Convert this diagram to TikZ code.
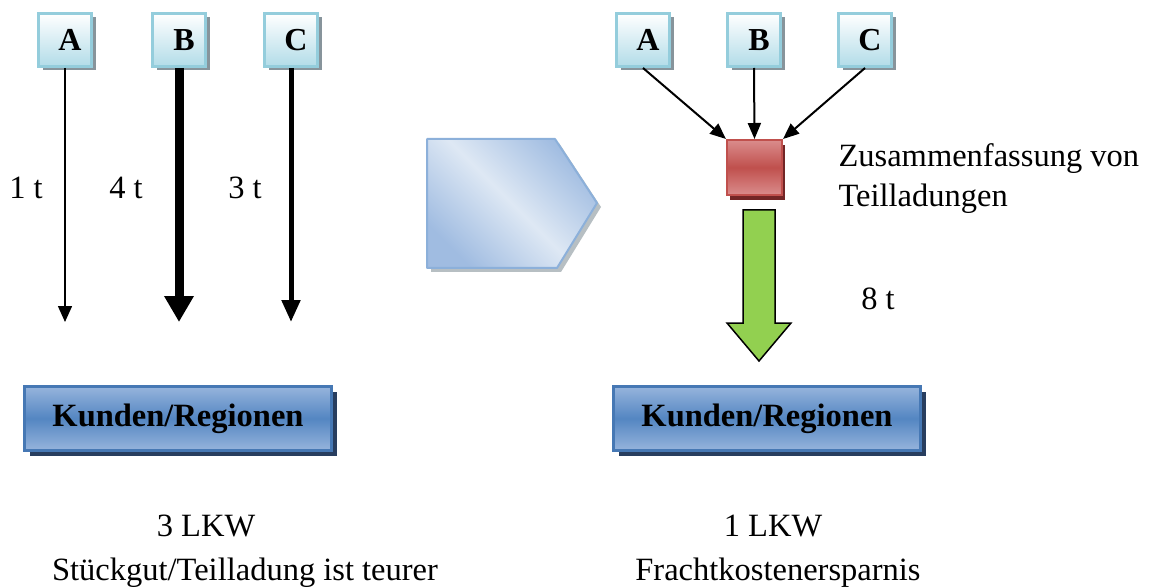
\documentclass[tikz,border=0pt]{standalone}
\usepackage{fontspec}
\setmainfont{Liberation Serif}
\usetikzlibrary{arrows.meta,calc,shadows}

\definecolor{srcframe}{RGB}{148,205,220}
\definecolor{srcfill}{RGB}{178,220,232}
\definecolor{srcshadow}{RGB}{135,148,155}
\definecolor{custmid}{RGB}{84,134,194}
\definecolor{custlight}{RGB}{150,180,220}
\definecolor{custframe}{RGB}{70,120,180}
\definecolor{custshadow}{RGB}{40,62,95}
\definecolor{hubred}{RGB}{192,80,77}
\definecolor{hublight}{RGB}{218,140,140}
\definecolor{hubshadow}{RGB}{115,38,38}
\definecolor{flowgreen}{RGB}{146,208,80}
\definecolor{stepdark}{RGB}{160,188,225}
\definecolor{steplight}{RGB}{222,232,244}
\definecolor{stepframe}{RGB}{140,176,218}

\tikzset{
  bigtext/.style={font=\fontsize{32.5}{40}\selectfont},
  srcbox/.style={draw=srcframe, line width=3pt, top color=white, bottom color=srcfill,
    minimum width=53pt, minimum height=53pt, inner sep=0pt,
    font=\bfseries\fontsize{32}{36}\selectfont,
    drop shadow={shadow xshift=4pt, shadow yshift=-4pt, fill=srcshadow, opacity=1}},
  custbox/.style={draw=custframe, line width=3pt, top color=custlight, bottom color=custlight,
    middle color=custmid, minimum width=307pt, minimum height=64pt, inner sep=0pt,
    font=\bfseries\fontsize{32.5}{36}\selectfont,
    drop shadow={shadow xshift=5pt, shadow yshift=-5pt, fill=custshadow, opacity=1}},
  hubbox/.style={draw=hubred, line width=2pt, top color=hublight, bottom color=hublight,
    middle color=hubred, minimum width=55pt, minimum height=55pt, inner sep=0pt,
    drop shadow={shadow xshift=3pt, shadow yshift=-5pt, fill=hubshadow, opacity=1}},
  thinflow/.style={line width=1.5pt, -{Triangle[width=14pt,length=16pt]}},
  heavyflow/.style={line width=9pt, -{Triangle[width=28pt,length=26pt]}},
  midflow/.style={line width=5pt, -{Triangle[width=18pt,length=22pt]}},
  feed/.style={line width=2pt, -{Triangle[width=13pt,length=16pt]}},
}

\begin{document}
\begin{tikzpicture}[x=1pt, y=-1pt]
\useasboundingbox (0,0) rectangle (1149,588);

% ---- separate shipments (left) ----
\node[srcbox] (la) at (65,40)  {\hspace{10pt}A};
\node[srcbox] (lb) at (179,40) {\hspace{10pt}B};
\node[srcbox] (lc) at (291,40) {\hspace{10pt}C};

\node[custbox] (lcust) at (178,418.5) {Kunden/Regionen};

\coordinate (la end) at (65,322);
\coordinate (lb end) at (179,322);
\coordinate (lc end) at (291,322);
\draw[thinflow]  (la.south) -- (la end);
\draw[heavyflow] (lb.south) -- (lb end);
\draw[midflow]   (lc.south) -- (lc end);

\node[bigtext, anchor=base] (wa) at (26,199)  {1 t};
\node[bigtext, anchor=base] (wb) at (126,199) {4 t};
\node[bigtext, anchor=base] (wc) at (245,199) {3 t};

\node[bigtext, anchor=base] (ltrucks) at (206,536) {3 LKW};
\node[bigtext, anchor=base] (lnote) at (245,580) {Stückgut/Teilladung ist teurer};

% ---- transition step ----
\fill[srcshadow!60] (431,143) -- (559,143) -- (601,207) -- (561,272) -- (431,272) -- cycle;
\shade[top color=stepdark, bottom color=stepdark, middle color=steplight, shading angle=-45]
  (427,139) -- (555,139) -- (597,203) -- (557,268) -- (427,268) -- cycle;
\draw[stepframe, line width=2pt, line join=round]
  (427,139) -- (555,139) -- (597,203) -- (557,268) -- (427,268) -- cycle;

% ---- consolidated shipment (right) ----
\node[srcbox] (ra) at (643,40)  {\hspace{10pt}A};
\node[srcbox] (rb) at (754,40)  {\hspace{10pt}B};
\node[srcbox] (rc) at (865,40)  {\hspace{10pt}C};

\node[hubbox] (hub) at (754.5,167.5) {};

\draw[feed] (ra.south) -- (hub.north west);
\draw[feed] (rb.south) -- (hub.north);
\draw[feed] (rc.south) -- (hub.north east);

\node[bigtext, anchor=base west, align=left] (hubtxt) at (835,207)
  {Zusammenfassung von\\Teilladungen};

\draw[line width=1.5pt, fill=flowgreen, line join=miter]
  (743,210) -- (775,210) -- (775,323) -- (791,323) -- (759,361) -- (727,323) -- (743,323) -- cycle;

\node[bigtext, anchor=base] (wtot) at (878,309) {8 t};

\node[custbox] (rcust) at (767,418.5) {Kunden/Regionen};

\node[bigtext, anchor=base] (rtrucks) at (773,536) {1 LKW};
\node[bigtext, anchor=base] (rnote) at (778,580) {Frachtkostenersparnis};
\end{tikzpicture}
\end{document}
